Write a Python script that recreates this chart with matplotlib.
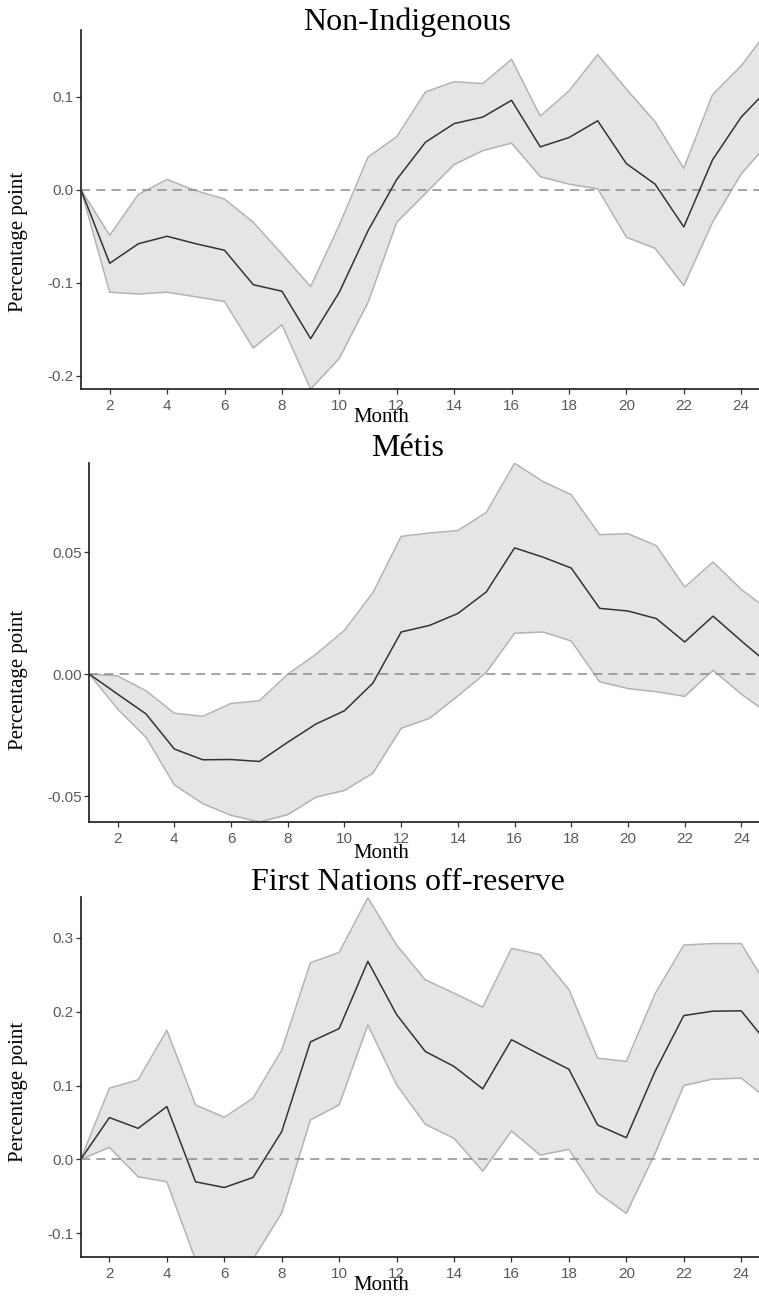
import matplotlib
matplotlib.use("Agg")
import matplotlib.pyplot as plt

months = list(range(1, 26))
x_ticks = list(range(2, 25, 2))

# Non-Indigenous
nonind_mean = [0, -0.079, -0.058, -0.050, -0.058, -0.065, -0.102, -0.109, -0.160, -0.110,
               -0.044, 0.011, 0.051, 0.071, 0.078, 0.096, 0.046, 0.056, 0.074, 0.028,
               0.006, -0.040, 0.032, 0.078, 0.110]
nonind_upper = [0, -0.049, -0.005, 0.011, -0.001, -0.010, -0.035, -0.069, -0.104, -0.038,
                0.035, 0.057, 0.105, 0.116, 0.114, 0.140, 0.079, 0.106, 0.145, 0.108,
                0.073, 0.023, 0.102, 0.133, 0.174]
nonind_lower = [0, -0.110, -0.112, -0.110, -0.115, -0.120, -0.170, -0.145, -0.214, -0.181,
                -0.121, -0.035, -0.004, 0.027, 0.042, 0.050, 0.014, 0.006, 0.001, -0.051,
                -0.063, -0.103, -0.035, 0.017, 0.052]

# Metis
metis_mean = [0, -0.0082, -0.0163, -0.0307, -0.0351, -0.0350, -0.0358, -0.0279, -0.0204, -0.0150,
              -0.0037, 0.0173, 0.0200, 0.0249, 0.0337, 0.0518, 0.0480, 0.0435, 0.0270, 0.0259,
              0.0228, 0.0132, 0.0238, 0.0136, 0.0038]
metis_upper = [0, -0.0007, -0.0068, -0.0160, -0.0173, -0.0120, -0.0109, 0.0000, 0.0082, 0.0180,
               0.0334, 0.0565, 0.0579, 0.0589, 0.0663, 0.0865, 0.0790, 0.0736, 0.0572, 0.0576,
               0.0527, 0.0357, 0.0460, 0.0347, 0.0260]
metis_lower = [0, -0.0143, -0.0259, -0.0454, -0.0531, -0.0579, -0.0606, -0.0576, -0.0504, -0.0477,
               -0.0406, -0.0222, -0.0181, -0.0089, 0.0007, 0.0168, 0.0173, 0.0136, -0.0031, -0.0059,
               -0.0072, -0.0091, 0.0016, -0.0082, -0.0166]

# First Nations off-reserve
fn_mean = [0, 0.0566, 0.042, 0.0715, -0.0303, -0.038, -0.0244, 0.0376, 0.159, 0.177,
           0.268, 0.196, 0.146, 0.1258, 0.0955, 0.162, 0.1416, 0.122, 0.0466, 0.0294,
           0.119, 0.1946, 0.2005, 0.201, 0.153]
fn_upper = [0, 0.0964, 0.1077, 0.1747, 0.0738, 0.057, 0.0828, 0.148, 0.266, 0.28,
            0.354, 0.29, 0.243, 0.225, 0.206, 0.2855, 0.277, 0.23, 0.137, 0.1326,
            0.224, 0.29, 0.292, 0.292, 0.228]
fn_lower = [0, 0.0163, -0.0235, -0.0303, -0.136, -0.15, -0.135, -0.0724, 0.0534, 0.0738,
            0.182, 0.101, 0.0475, 0.0285, -0.0158, 0.0385, 0.0059, 0.0136, -0.045, -0.073,
            0.008, 0.1, 0.1086, 0.11, 0.079]

panels = [
    ("Non-Indigenous", nonind_mean, nonind_upper, nonind_lower,
     [-0.2, -0.1, 0.0, 0.1], ["-0.2", "-0.1", "0.0", "0.1"], (-0.214, 0.1715)),
    ("Métis", metis_mean, metis_upper, metis_lower,
     [-0.05, 0.0, 0.05], ["-0.05", "0.00", "0.05"], (-0.0605, 0.0866)),
    ("First Nations off-reserve", fn_mean, fn_upper, fn_lower,
     [-0.1, 0.0, 0.1, 0.2, 0.3], ["-0.1", "0.0", "0.1", "0.2", "0.3"], (-0.1316, 0.3546)),
]

W, H = 759, 1296
fig = plt.figure(figsize=(W / 100, H / 100), dpi=100)

# axes boxes in pixels: left, top, bottom
boxes = [(81, 30, 389), (89.3, 463, 821.7), (80.7, 897.3, 1256.7)]
title_y = [22, 448, 882]
month_y = [418, 853, 1286]
ylab_y = [242, 680, 1092]

serif = "Liberation Serif"
sans = "Liberation Sans"

for (title, mean, upper, lower, yt, ytl, ylim), (l, t, b), ty, my, ly in zip(
        panels, boxes, title_y, month_y, ylab_y):
    ax = fig.add_axes([l / W, 1 - b / H, (W - l) / W, (b - t) / H])
    ax.fill_between(months, lower, upper, color="#e5e5e5", lw=0, zorder=1)
    ax.plot(months, upper, color="#b3b3b3", lw=1.1, zorder=2)
    ax.plot(months, lower, color="#b3b3b3", lw=1.1, zorder=2)
    ax.axhline(0, color="#8c8c8c", lw=1.1, ls=(0, (6, 4)), zorder=3)
    ax.plot(months, mean, color="#333333", lw=1.1, zorder=4)

    ax.set_xlim(1, 24.62)
    ax.set_ylim(*ylim)
    ax.set_xticks(x_ticks)
    ax.set_yticks(yt)
    ax.set_yticklabels(ytl)
    for s in ["top", "right"]:
        ax.spines[s].set_visible(False)
    for s in ["left", "bottom"]:
        ax.spines[s].set_linewidth(1.2)
        ax.spines[s].set_color("#1a1a1a")
    ax.tick_params(length=3.5, width=0.9, color="#333333", labelcolor="#5a5a5a",
                   labelsize=11, pad=2)
    ax.tick_params(axis="x", pad=4)
    for lab in ax.get_xticklabels() + ax.get_yticklabels():
        lab.set_fontfamily(sans)

    fig.text(407.5 / W, 1 - ty / H, title, ha="center", va="center",
             fontsize=23, family=serif)
    fig.text(381 / W, 1 - my / H, "Month", ha="center", va="center",
             fontsize=15, family=serif)
    fig.text(18.5 / W, 1 - ly / H, "Percentage point", ha="center", va="center",
             rotation=90, fontsize=15, family=serif)

fig.savefig("out.png", dpi=100)
